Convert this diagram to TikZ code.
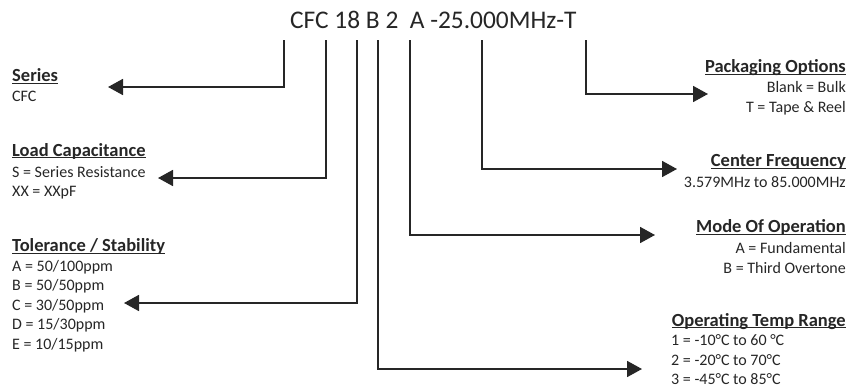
\documentclass[tikz,border=0pt]{standalone}
\usepackage{fontspec}
\setmainfont{Carlito}
\usetikzlibrary{arrows.meta}
\newcommand\hdrul[1]{\setbox0\hbox{#1}\rlap{\rule[-2.3pt]{\wd0}{1.3pt}}\box0}
\begin{document}
\begin{tikzpicture}[x=1pt,y=-1pt,
  hd/.style={inner sep=0pt, font=\fontsize{18.5}{22}\selectfont\bfseries, text=black!85},
  bd/.style={inner sep=0pt, font=\fontsize{16}{19}\selectfont, text=black!85},
  conn/.style={line width=1.8pt, draw=black!85, -{Triangle[length=15pt,width=16pt]}, line join=miter}]
\useasboundingbox (0,0) rectangle (864,388);
% title
\node[inner sep=0pt, anchor=base west, font=\fontsize{25.4}{30}\selectfont, text=black!85] (title) at (290,28.5) {CFC 18 B 2\ \ A -25.000MHz-T};
% top points
\coordinate (t1) at (284,40);
\coordinate (t2) at (326,40);
\coordinate (t3) at (357,40);
\coordinate (t4) at (378,40);
\coordinate (t5) at (410,40);
\coordinate (t6) at (482,40);
\coordinate (t7) at (586,40);
% arrow ends
\coordinate (e1) at (108,87);
\coordinate (e2) at (158,178);
\coordinate (e3) at (124,303);
\coordinate (e4) at (642,369);
\coordinate (e5) at (655,235);
\coordinate (e6) at (677,169);
\coordinate (e7) at (708,94);
% left labels
\node[hd, anchor=base west] (serH) at (12,81.5) {\hdrul{Series}};
\node[bd, anchor=base west] (ser1) at (12,101) {CFC};
\node[hd, anchor=base west] (loadH) at (12,156) {\hdrul{Load Capacitance}};
\node[bd, anchor=base west] (load1) at (12,177) {S = Series Resistance};
\node[bd, anchor=base west] (load2) at (12,196.5) {XX = XXpF};
\node[hd, anchor=base west] (tolH) at (12,251.5) {\hdrul{Tolerance / Stability}};
\node[bd, anchor=base west] (tol1) at (12,271) {A = 50/100ppm};
\node[bd, anchor=base west] (tol2) at (12,290.5) {B = 50/50ppm};
\node[bd, anchor=base west] (tol3) at (12,310) {C = 30/50ppm};
\node[bd, anchor=base west] (tol4) at (12,329.5) {D = 15/30ppm};
\node[bd, anchor=base west] (tol5) at (12,349) {E = 10/15ppm};
% right labels
\node[hd, anchor=base east] (pkgH) at (846,72.5) {\hdrul{Packaging Options}};
\node[bd, anchor=base east] (pkg1) at (846,92) {Blank = Bulk};
\node[bd, anchor=base east] (pkg2) at (846,112) {T = Tape \& Reel};
\node[hd, anchor=base east] (cfH) at (846,166.5) {\hdrul{Center Frequency}};
\node[bd, anchor=base east] (cf1) at (846,187) {3.579MHz to 85.000MHz};
\node[hd, anchor=base east] (modeH) at (846,232.5) {\hdrul{Mode Of Operation}};
\node[bd, anchor=base east] (mode1) at (846,253) {A = Fundamental};
\node[bd, anchor=base east] (mode2) at (846,273) {B = Third Overtone};
\node[hd, anchor=base east] (tempH) at (846,326) {\hdrul{Operating Temp Range}};
\node[bd, anchor=base west] (temp1) at (671,345.5) {1 = -10°C to 60 °C};
\node[bd, anchor=base west] (temp2) at (671,365) {2 = -20°C to 70°C};
\node[bd, anchor=base west] (temp3) at (671,384.5) {3 = -45°C to 85°C};
% connectors
\draw[conn] (t1) |- (e1);
\draw[conn] (t2) |- (e2);
\draw[conn] (t3) |- (e3);
\draw[conn] (t4) |- (e4);
\draw[conn] (t5) |- (e5);
\draw[conn] (t6) |- (e6);
\draw[conn] (t7) |- (e7);
\end{tikzpicture}
\end{document}
